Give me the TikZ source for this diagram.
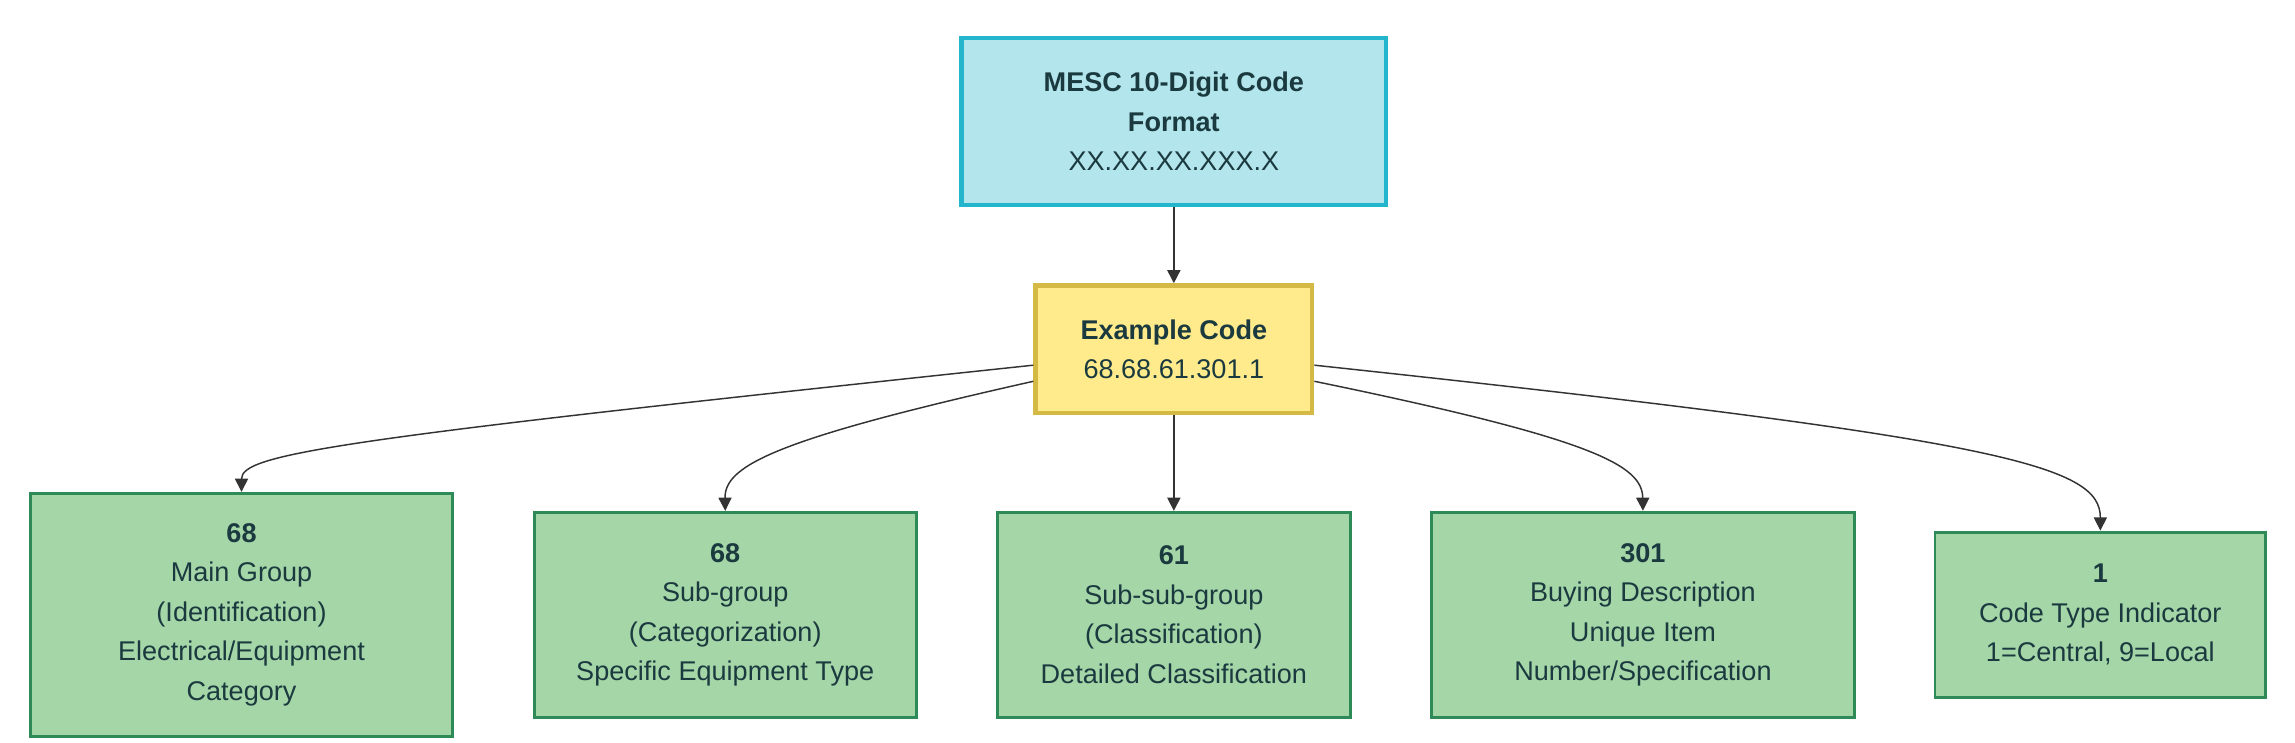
\documentclass[tikz,border=0pt]{standalone}
\usepackage{fontspec}
\setmainfont{Liberation Sans}
\usetikzlibrary{arrows.meta}
\definecolor{topfill}{HTML}{B3E5EC}
\definecolor{topline}{HTML}{22B5CC}
\definecolor{exfill}{HTML}{FFEB8C}
\definecolor{exline}{HTML}{D4B945}
\definecolor{grfill}{HTML}{A5D6A7}
\definecolor{grline}{HTML}{2E8B57}
\definecolor{txt}{HTML}{1B3A3F}
\definecolor{edge}{HTML}{333333}

\begin{document}
\begin{tikzpicture}[x=1pt,y=-1pt,
    box/.style={draw, line width=2pt, inner sep=0pt, align=center, text=txt,
        font=\fontsize{18.5}{27}\selectfont},
    mesc/.style={box, fill=topfill, draw=topline, line width=3pt},
    example/.style={box, fill=exfill, draw=exline, line width=3pt},
    part/.style={box, fill=grfill, draw=grline},
    link/.style={draw=edge, line width=1pt, -{Triangle[length=9pt,width=9pt]}}]
    \useasboundingbox (0,0) rectangle (1568,507);

    % Nodes
    \node [mesc, minimum width=290pt, minimum height=114pt] (fmt) at (802,83)
        {\textbf{MESC 10-Digit Code}\\\textbf{Format}\\XX.XX.XX.XXX.X};
    \node [example, minimum width=189pt, minimum height=87pt] (ex) at (802,238.5)
        {\textbf{Example Code}\\68.68.61.301.1};
    \node [part, minimum width=288pt, minimum height=166pt] (grp) at (165,420)
        {\textbf{68}\\Main Group\\(Identification)\\Electrical/Equipment\\Category};
    \node [part, minimum width=261pt, minimum height=140pt] (sub) at (495.5,420)
        {\textbf{68}\\Sub-group\\(Categorization)\\Specific Equipment Type};
    \node [part, minimum width=241pt, minimum height=140pt] (subsub) at (802,420)
        {\textbf{61}\\Sub-sub-group\\(Classification)\\Detailed Classification};
    \node [part, minimum width=289pt, minimum height=140pt] (buy) at (1122.5,420)
        {\textbf{301}\\Buying Description\\Unique Item\\Number/Specification};
    \node [part, minimum width=226pt, minimum height=113pt] (type) at (1435,420)
        {\textbf{1}\\Code Type Indicator\\1=Central, 9=Local};

    % Connectors
    \draw [link] (fmt) -- (ex);
    \draw [link] ([yshift=-11pt]ex.west) .. controls (230,300) and (165,310) .. (grp.north);
    \draw [link] ([yshift=-22pt]ex.west) .. controls (530,300) and (495,318) .. (sub.north);
    \draw [link] (ex) -- (subsub);
    \draw [link] ([yshift=-22pt]ex.east) .. controls (1090,300) and (1122,318) .. (buy.north);
    \draw [link] ([yshift=-11pt]ex.east) .. controls (1370,300) and (1435,318) .. (type.north);
\end{tikzpicture}
\end{document}
